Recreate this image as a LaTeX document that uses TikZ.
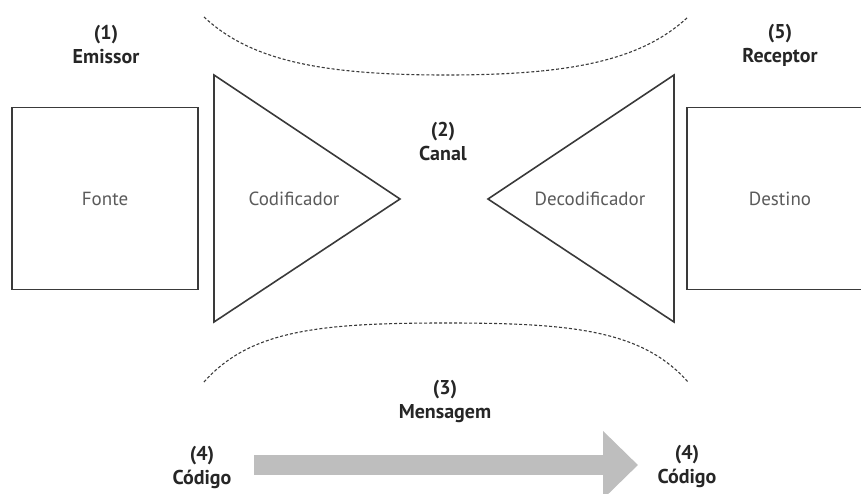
\documentclass[tikz,border=0pt]{standalone}
\usepackage{fontspec}
\setmainfont{PT Sans}
\usepackage{xcolor}
\usetikzlibrary{arrows.meta,positioning}

\definecolor{inkgray}{HTML}{3A3A3A}
\definecolor{textgray}{HTML}{5A5A5A}
\definecolor{arrowgray}{HTML}{BEBEBE}

\begin{document}
\begin{tikzpicture}[
    x=1pt, y=-1pt,
    box/.style={rectangle, draw=inkgray, line width=1.6pt, minimum width=186pt, minimum height=182pt, text=textgray, font=\fontsize{19}{21}\selectfont},
    tri/.style={draw=inkgray, line width=1.6pt, line join=miter},
    inner/.style={text=textgray, font=\fontsize{19}{21}\selectfont},
    tag/.style={text=black!85, font=\bfseries\fontsize{20}{24}\selectfont, align=center},
    wave/.style={draw=inkgray, line width=1.1pt, dash pattern=on 3pt off 2pt},
    bigarrow/.style={draw=arrowgray, line width=20pt, -{Triangle[length=35pt, width=66pt]}}
]
\useasboundingbox (0,0) rectangle (861,493);

% Emissor and Receptor
\node[box] (fonte) at (105,198.5) {Fonte};
\node[box] (destino) at (780,198.5) {Destino};

% Encoder / decoder
\draw[tri] (214,75) -- (400,199) -- (214,322) -- cycle;
\draw[tri] (674,75) -- (488,199) -- (674,322) -- cycle;
\node[inner] (cod) at (294,199) {Codificador};
\node[inner] (dec) at (590,199) {Decodificador};

% Channel edges
\draw[wave] (204,17) .. controls (250,60) and (320,75) .. (446,75) .. controls (572,75) and (642,60) .. (688,17);
\draw[wave] (204,382) .. controls (250,330) and (320,323) .. (446,323) .. controls (572,323) and (642,330) .. (688,382);

% Labels
\node[tag] (emissor) at (106,45) {(1)\\Emissor};
\node[tag] (receptor) at (780,45) {(5)\\Receptor};
\node[tag] (canal) at (443,141) {(2)\\Canal};
\node[tag] (mensagem) at (445,401) {(3)\\Mensagem};
\node[tag] (codigoA) at (202,467) {(4)\\Código};
\node[tag] (codigoB) at (687,466) {(4)\\Código};

% Message arrow
\coordinate (msgS) at (254,465);
\coordinate (msgE) at (638,465);
\draw[bigarrow] (msgS) -- (msgE);

\end{tikzpicture}
\end{document}
